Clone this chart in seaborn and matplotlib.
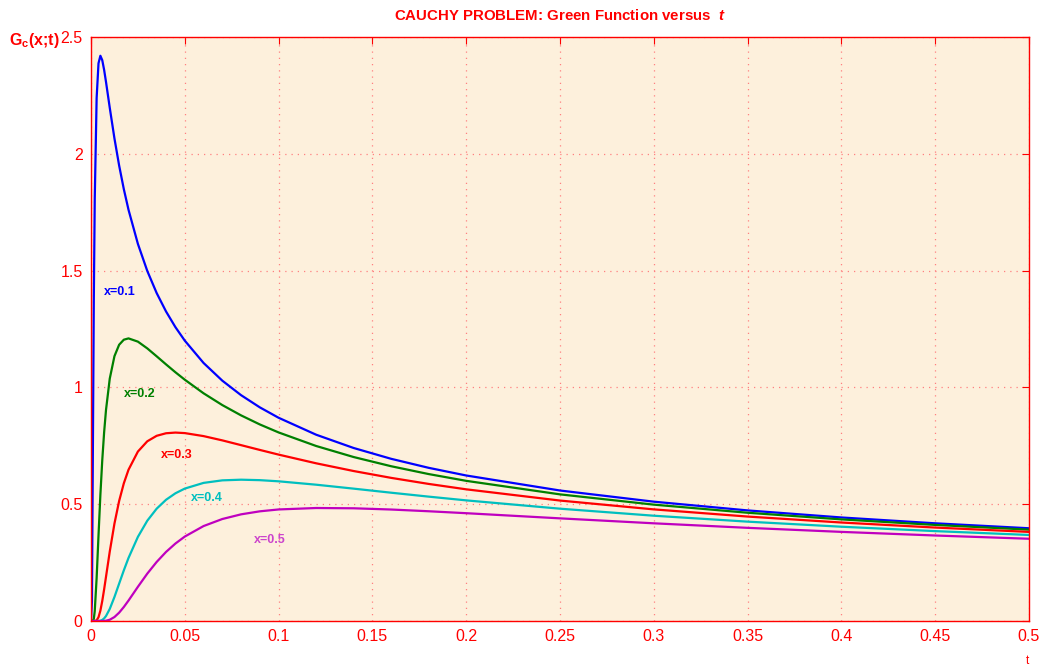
import matplotlib
matplotlib.use("Agg")
import matplotlib.pyplot as plt
from matplotlib.ticker import FuncFormatter
import pandas as pd
import seaborn as sns

# time samples (t) and Green function values
t = [0, 0.0005, 0.001, 0.0015, 0.002, 0.003, 0.004, 0.005, 0.006, 0.007,
     0.008, 0.010, 0.0125, 0.015, 0.0175, 0.02, 0.025, 0.03, 0.035, 0.04,
     0.045, 0.05, 0.06, 0.07, 0.08, 0.09, 0.10, 0.12, 0.14, 0.16,
     0.18, 0.20, 0.25, 0.30, 0.35, 0.40, 0.45, 0.50]

g_x01 = [0, 0.0850, 0.7322, 1.3757, 1.8072, 2.2383, 2.3874, 2.4197, 2.4008, 2.3590,
         2.3075, 2.1969, 2.0657, 1.9497, 1.8485, 1.7603, 1.6143, 1.4985, 1.4039, 1.3250,
         1.2579, 1.2001, 1.1046, 1.0288, 0.9667, 0.9145, 0.8700, 0.7975, 0.7406, 0.6943,
         0.6557, 0.6229, 0.5586, 0.5108, 0.4734, 0.4432, 0.4182, 0.3970]
g_x02 = [0, 0, 0.0004, 0.0093, 0.0425, 0.1837, 0.3661, 0.5399, 0.6879, 0.8080,
         0.9036, 1.0377, 1.1337, 1.1826, 1.2042, 1.2098, 1.1959, 1.1670, 1.1331, 1.0985,
         1.0648, 1.0329, 0.9748, 0.9243, 0.8802, 0.8414, 0.8072, 0.7492, 0.7019, 0.6625,
         0.6290, 0.6000, 0.5421, 0.4981, 0.4634, 0.4350, 0.4113, 0.3910]
g_x03 = [0, 0, 0, 0, 0.0001, 0.0028, 0.0161, 0.0443, 0.0856, 0.1355,
         0.1894, 0.2973, 0.4171, 0.5139, 0.5895, 0.6476, 0.7254, 0.7693, 0.7928, 0.8037,
         0.8066, 0.8044, 0.7915, 0.7732, 0.7528, 0.7323, 0.7123, 0.6751, 0.6420, 0.6127,
         0.5868, 0.5637, 0.5156, 0.4778, 0.4471, 0.4216, 0.4000, 0.3814]
g_x04 = [0, 0, 0, 0, 0, 0, 0.0002, 0.0013, 0.0046, 0.0111,
         0.0213, 0.0517, 0.1028, 0.1600, 0.2169, 0.2700, 0.3602, 0.4293, 0.4808, 0.5189,
         0.5467, 0.5669, 0.5912, 0.6021, 0.6049, 0.6029, 0.5980, 0.5835, 0.5666, 0.5492,
         0.5324, 0.5164, 0.4808, 0.4507, 0.4253, 0.4036, 0.3848, 0.3683]
g_x05 = [0, 0, 0, 0, 0, 0, 0, 0, 0.0001, 0.0004,
         0.0013, 0.0054, 0.0170, 0.0357, 0.0600, 0.0876, 0.1464, 0.2028, 0.2528, 0.2957,
         0.3316, 0.3615, 0.4064, 0.4366, 0.4566, 0.4695, 0.4775, 0.4837, 0.4825, 0.4772,
         0.4698, 0.4615, 0.4394, 0.4182, 0.3988, 0.3815, 0.3660, 0.3521]

series = ["x=0.1", "x=0.2", "x=0.3", "x=0.4", "x=0.5"]
colors = ["#0000ff", "#008000", "#ff0000", "#00bfbf", "#bf00bf"]
label_colors = ["#0000ff", "#008000", "#ff0000", "#00bfbf", "#cc44cc"]
# where the curve labels sit (t, G)
label_t = [0.0068, 0.0175, 0.0375, 0.0535, 0.087]
label_g = [1.41, 0.97, 0.71, 0.527, 0.347]

df = pd.concat([pd.DataFrame({"t": t, "G": g, "x": s})
                for s, g in zip(series, [g_x01, g_x02, g_x03, g_x04, g_x05])])

sns.set_style("white")
plt.rcParams["font.family"] = ["Liberation Sans", "DejaVu Sans"]
plt.rcParams["mathtext.fontset"] = "custom"
plt.rcParams["mathtext.it"] = "Liberation Sans:italic:bold"
plt.rcParams["mathtext.bf"] = "Liberation Sans:bold"
plt.rcParams["mathtext.rm"] = "Liberation Sans"

red = "#ff0000"
fig = plt.figure(figsize=(10.45, 6.67), dpi=100)
ax = fig.add_axes([91 / 1045, 1 - 621 / 667, 938 / 1045, 584 / 667])
ax.set_facecolor("#fdf0dc")

sns.lineplot(data=df, x="t", y="G", hue="x", palette=colors, linewidth=1.6,
             legend=False, ax=ax, sort=False)

for s, c, lt, lg in zip(series, label_colors, label_t, label_g):
    ax.text(lt, lg, s, color=c, fontsize=9, fontweight="bold", ha="left", va="center")

ax.set_xlim(0, 0.5)
ax.set_ylim(0, 2.5)
ax.set_xticks([i * 0.05 for i in range(11)])
ax.set_yticks([0, 0.5, 1, 1.5, 2, 2.5])
ax.xaxis.set_major_formatter(FuncFormatter(lambda v, p: "%g" % round(v, 3)))
ax.yaxis.set_major_formatter(FuncFormatter(lambda v, p: "%g" % round(v, 3)))
ax.tick_params(direction="in", colors=red, labelcolor=red, length=5, width=0.8,
               labelsize=11.5, top=True, right=True, pad=6)
ax.grid(True, color="#ff8080", linestyle=(0, (1, 4)), linewidth=0.9)
for sp in ax.spines.values():
    sp.set_color(red)
    sp.set_linewidth(1.0)
ax.set_xlabel("")
ax.set_ylabel("")

ax.set_title("CAUCHY PROBLEM: Green Function versus  $t$", color=red,
             fontsize=10.8, fontweight="bold", pad=12)
fig.text(9 / 1045, 1 - 40 / 667, "G$_\\mathbf{c}$(x;t)", color=red, fontsize=11.5,
         fontweight="bold", ha="left", va="center")
fig.text(1027 / 1045, 1 - 661 / 667, "t", color=red, fontsize=8.5,
         ha="center", va="center")

fig.savefig("out.png", dpi=100)
